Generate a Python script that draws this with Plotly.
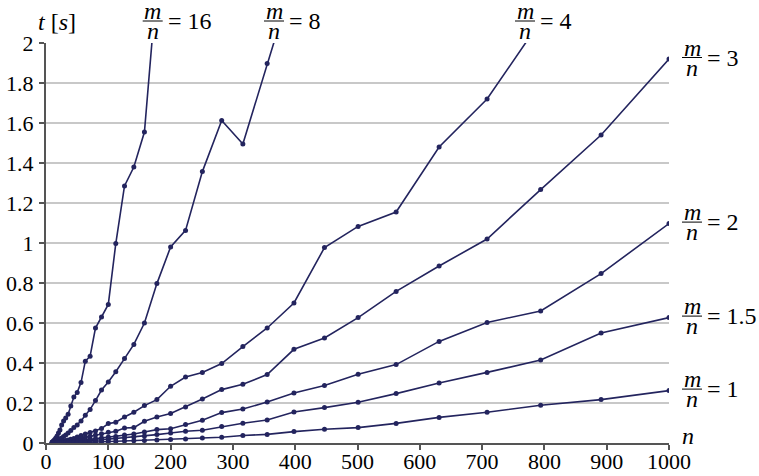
import plotly.graph_objects as go

# problem size n (log-spaced sample points)
N = [10, 11.2, 12.6, 14.1, 15.8, 17.8, 20, 22.4, 25.1, 28.2, 31.6, 35.5, 39.8, 44.7,
     50.1, 56.2, 63.1, 70.8, 79.4, 89.1, 100, 112, 126, 141, 158, 178, 200, 224, 251,
     282, 316, 355, 398, 447, 501, 562, 631, 708, 794, 891, 1000]

# running time t [s] for each ratio m/n
t_16 = [0.005, 0.008, 0.012, 0.018, 0.025, 0.035, 0.05, 0.065, 0.09, 0.11, 0.125, 0.144,
        0.185, 0.23, 0.253, 0.302, 0.409, 0.434, 0.575, 0.63, 0.693, 0.997, 1.285, 1.38,
        1.555, 2.3]
t_8 = [0.003, 0.004, 0.005, 0.007, 0.009, 0.012, 0.015, 0.02, 0.025, 0.032, 0.04, 0.05,
       0.062, 0.078, 0.09, 0.11, 0.139, 0.168, 0.212, 0.265, 0.305, 0.356, 0.422, 0.493,
       0.6, 0.797, 0.98, 1.063, 1.357, 1.613, 1.495, 1.897, 2.33]
t_4 = [0.001, 0.0015, 0.002, 0.0025, 0.003, 0.004, 0.005, 0.006, 0.008, 0.01, 0.012, 0.015,
       0.019, 0.023, 0.03, 0.038, 0.045, 0.052, 0.06, 0.072, 0.097, 0.1035, 0.13, 0.1535,
       0.187, 0.217, 0.2835, 0.33, 0.352, 0.397, 0.482, 0.575, 0.70, 0.977, 1.083, 1.155,
       1.48, 1.72, 2.11]
t_3 = [0.001, 0.001, 0.0015, 0.002, 0.002, 0.003, 0.0035, 0.004, 0.005, 0.007, 0.008, 0.01,
       0.013, 0.016, 0.019, 0.024, 0.028, 0.034, 0.04, 0.046, 0.0535, 0.0585, 0.075, 0.077,
       0.1085, 0.13, 0.147, 0.18, 0.22, 0.267, 0.2935, 0.342, 0.4685, 0.525, 0.627, 0.758,
       0.885, 1.02, 1.267, 1.54, 1.92]
t_2 = [0.0005, 0.0006, 0.0008, 0.001, 0.0012, 0.0015, 0.002, 0.0025, 0.003, 0.0035, 0.0045,
       0.005, 0.007, 0.008, 0.01, 0.012, 0.015, 0.018, 0.021, 0.025, 0.03, 0.033, 0.04,
       0.045, 0.055, 0.067, 0.071, 0.092, 0.1135, 0.152, 0.17, 0.205, 0.25, 0.287, 0.3435,
       0.392, 0.508, 0.603, 0.66, 0.847, 1.097]
t_15 = [0.0004, 0.0005, 0.0006, 0.0007, 0.0009, 0.001, 0.0013, 0.0016, 0.002, 0.0025, 0.003,
        0.0035, 0.004, 0.005, 0.006, 0.0075, 0.009, 0.011, 0.013, 0.016, 0.019, 0.022, 0.026,
        0.03, 0.035, 0.042, 0.05, 0.0585, 0.0635, 0.082, 0.099, 0.115, 0.155, 0.177, 0.2035,
        0.247, 0.30, 0.353, 0.415, 0.55, 0.627]
t_1 = [0.0002, 0.0002, 0.0003, 0.0003, 0.0004, 0.0005, 0.0006, 0.0007, 0.0008, 0.001, 0.0012,
       0.0014, 0.0017, 0.002, 0.0025, 0.003, 0.0035, 0.004, 0.005, 0.006, 0.007, 0.008,
       0.0095, 0.011, 0.013, 0.015, 0.0175, 0.02, 0.025, 0.029, 0.0375, 0.043, 0.057, 0.0685,
       0.077, 0.098, 0.128, 0.154, 0.189, 0.217, 0.262]

series = [t_16, t_8, t_4, t_3, t_2, t_15, t_1]
ratio_labels = ["16", "8", "4", "3", "2", "1.5", "1"]

x_ticks = [0, 100, 200, 300, 400, 500, 600, 700, 800, 900, 1000]
y_ticks = [0, 0.2, 0.4, 0.6, 0.8, 1, 1.2, 1.4, 1.6, 1.8, 2]
y_ticktext = ["0", "0.2", "0.4", "0.6", "0.8", "1", "1.2", "1.4", "1.6", "1.8", "2"]

LINE = "#23245e"
FONT = "Liberation Serif, DejaVu Serif, serif"
FS = 22      # tick labels
LFS = 24     # annotation labels

fig = go.Figure()
for ys in series:
    fig.add_trace(go.Scatter(
        x=N[:len(ys)], y=ys, mode="lines+markers",
        line=dict(color=LINE, width=1.6),
        marker=dict(color=LINE, size=5),
        showlegend=False, hoverinfo="skip"))

W, H = 759, 476
ML, MR, MT, MB = 46, 90, 43, 33
PW, PH = W - ML - MR, H - MT - MB

annotations = []
shapes = []


def add_frac(xp, y, yref, label, bar_shift=0):
    # fraction m/n followed by "= label"
    base = dict(xref="paper", yref=yref, x=xp, y=y, showarrow=False,
                font=dict(family=FONT, size=LFS, color="black"), borderpad=0)
    annotations.append(dict(base, text="<i>m</i>", xanchor="center", yanchor="middle",
                            yshift=bar_shift + 10))
    annotations.append(dict(base, text="<i>n</i>", xanchor="center", yanchor="middle",
                            yshift=bar_shift - 10))
    annotations.append(dict(base, text="= " + label, xanchor="left", yanchor="middle",
                            xshift=14, yshift=bar_shift))
    shapes.append(dict(type="line", xref="paper", yref=yref,
                       xsizemode="pixel", ysizemode="pixel",
                       xanchor=xp, yanchor=y, x0=-10, x1=10,
                       y0=bar_shift, y1=bar_shift,
                       line=dict(color="black", width=1)))


def px_to_paper_x(p):
    return (p - ML) / PW


def py_to_paper_y(q):
    return (H - MB - q) / PH


# top labels (series leaving the chart through the top)
top_px = [152.7, 274, 525]
for lab, p in zip(ratio_labels[:3], top_px):
    add_frac(px_to_paper_x(p), py_to_paper_y(21), "paper", lab)

# right labels, at the end of each series
for lab, ys in zip(ratio_labels[3:], series[3:]):
    add_frac(px_to_paper_x(692), ys[-1], "y", lab, bar_shift=1.5)

# axis titles
annotations.append(dict(xref="paper", yref="paper", x=px_to_paper_x(57), y=py_to_paper_y(22),
                        text="<i>t</i> [<i>s</i>]", showarrow=False,
                        xanchor="center", yanchor="middle",
                        font=dict(family=FONT, size=LFS, color="black")))
annotations.append(dict(xref="paper", yref="paper", x=px_to_paper_x(688), y=py_to_paper_y(436),
                        text="<i>n</i>", showarrow=False,
                        xanchor="center", yanchor="middle",
                        font=dict(family=FONT, size=LFS, color="black")))

fig.update_layout(
    width=W, height=H,
    margin=dict(l=ML, r=MR, t=MT, b=MB, pad=0, autoexpand=False),
    paper_bgcolor="white", plot_bgcolor="white",
    font=dict(family=FONT, size=FS, color="black"),
    xaxis=dict(range=[0, 1000], tickvals=x_ticks, showgrid=False, zeroline=False,
               showline=True, linecolor="#555555", linewidth=2, automargin=False,
               ticks="outside", ticklen=5, tickwidth=1.5, tickcolor="#555555",
               ticklabelstandoff=-7,
               tickfont=dict(family=FONT, size=FS, color="black")),
    yaxis=dict(range=[0, 2], tickvals=y_ticks, ticktext=y_ticktext,
               showgrid=True, gridcolor="#c8c8c8", gridwidth=1.5, zeroline=False,
               showline=True, linecolor="#555555", linewidth=2, automargin=False,
               ticks="outside", ticklen=5, tickwidth=1.5, tickcolor="#555555",
               ticklabelstandoff=1,
               tickfont=dict(family=FONT, size=FS, color="black")),
    annotations=annotations,
    shapes=shapes,
)

fig.write_html("out.html", config={"displayModeBar": False},
               post_script="document.body.style.margin='0';")
